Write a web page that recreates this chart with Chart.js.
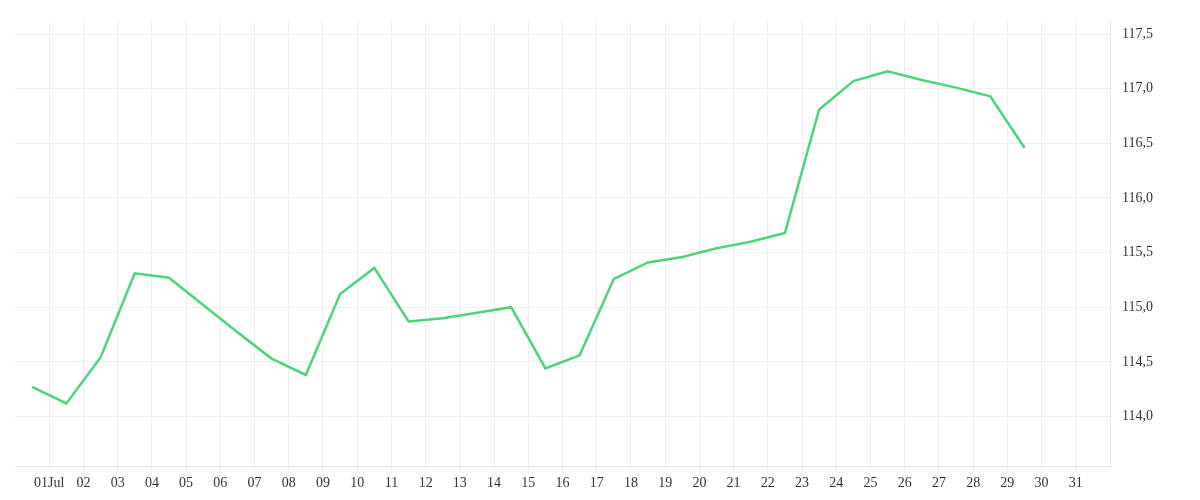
<!DOCTYPE html>
<html><head><script src="https://cdn.jsdelivr.net/npm/chart.js@4"></script>
<style>body{margin:0;background:#fff}#w{width:1200px;height:500px}</style></head>
<body><div id="w"><canvas id="c"></canvas></div>
<script>
const days = [0.5,1.5,2.5,3.5,4.5,5.5,6.5,7.5,8.5,9.5,10.5,11.5,12.5,13.5,14.5,15.5,16.5,17.5,18.5,19.5,20.5,21.5,22.5,23.5,24.5,25.5,26.5,27.5,28.5,29.5];
const values = [114.27,114.12,114.54,115.31,115.27,115.02,114.77,114.53,114.38,115.12,115.36,114.87,114.90,114.95,115.0,114.44,114.56,115.26,115.41,115.46,115.54,115.6,115.68,116.81,117.07,117.16,117.08,117.01,116.93,116.46];
const dayLabels = ['01Jul','02','03','04','05','06','07','08','09','10','11','12','13','14','15','16','17','18','19','20','21','22','23','24','25','26','27','28','29','30','31'];
const yTicks = [114.0,114.5,115.0,115.5,116.0,116.5,117.0,117.5];
const font = {family:'"Liberation Serif", serif', size:14};
new Chart(document.getElementById('c'), {
  type:'line',
  data:{datasets:[{data:days.map((d,i)=>({x:d,y:values[i]})),borderColor:'#4cd47b',borderWidth:2.5,pointRadius:0,tension:0,fill:false}]},
  options:{responsive:true,maintainAspectRatio:false,animation:false,
    layout:{padding:{left:15,top:2,right:35,bottom:5}},
    plugins:{legend:{display:false},tooltip:{enabled:false}},
    scales:{
      x:{type:'linear',min:0,max:32,
        afterBuildTicks:a=>{a.ticks=dayLabels.map((l,i)=>({value:i+1}));},
        ticks:{font,color:'#333',maxRotation:0,autoSkip:false,callback:(v)=>dayLabels[v-1]},
        grid:{color:'#eeeeee',tickLength:6},border:{color:'#e6e6e6'}},
      y:{position:'right',min:113.545,max:117.625,
        afterBuildTicks:a=>{a.ticks=yTicks.map(v=>({value:v}));},
        ticks:{font,color:'#333',padding:12,callback:v=>v.toFixed(1).replace('.',',')},
        grid:{color:'#eeeeee',drawTicks:false},border:{color:'#e6e6e6'}}
    }}
});
</script></body></html>
